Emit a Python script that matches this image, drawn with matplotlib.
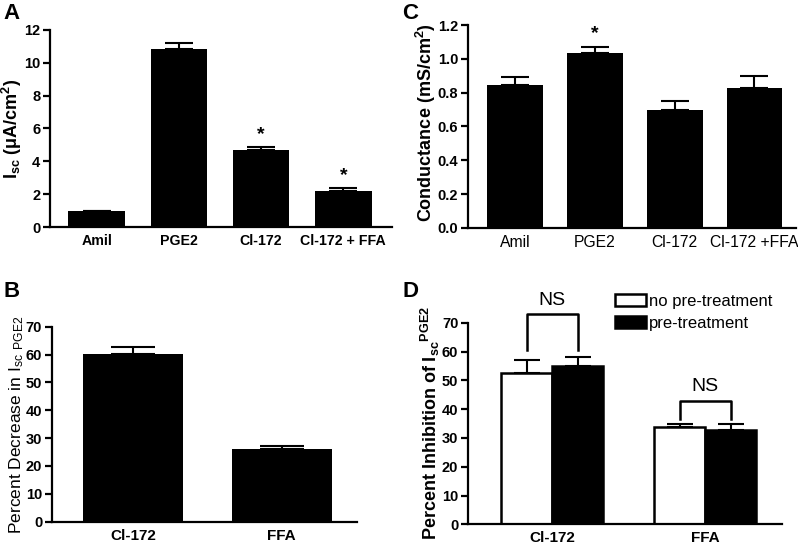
import matplotlib
matplotlib.use('Agg')
import matplotlib.pyplot as plt

plt.rcParams['font.family'] = ['Liberation Sans', 'DejaVu Sans']
plt.rcParams['mathtext.default'] = 'regular'
plt.rcParams['axes.linewidth'] = 1.6

# A: Isc
a_labels = ['Amil', 'PGE2', 'Cl-172', 'Cl-172 + FFA']
a_vals = [0.96, 10.85, 4.7, 2.2]
a_err = [0.03, 0.35, 0.18, 0.15]
a_star = [False, False, True, True]

# C: conductance
c_labels = ['Amil', 'PGE2', 'Cl-172', 'Cl-172 +FFA']
c_vals = [0.845, 1.037, 0.70, 0.826]
c_err = [0.048, 0.032, 0.053, 0.073]
c_star = [False, True, False, False]

# B: percent decrease
b_labels = ['Cl-172', 'FFA']
b_vals = [60.2, 26.0]
b_err = [2.6, 1.3]

# D: percent inhibition
d_labels = ['Cl-172', 'FFA']
d_nopre = [52.6, 33.9]
d_nopre_err = [4.4, 0.8]
d_pre = [54.9, 32.7]
d_pre_err = [3.3, 2.0]

fig = plt.figure(figsize=(7.98, 5.44), dpi=100)

def style(ax, xsize=10.5):
    ax.spines['top'].set_visible(False)
    ax.spines['right'].set_visible(False)
    ax.tick_params(direction='out', length=5, width=1.6, labelsize=10.5, pad=2)
    ax.tick_params(axis='x', length=0, pad=5, labelsize=xsize)
    for t in ax.get_xticklabels() + ax.get_yticklabels():
        t.set_fontweight('bold')

# panel A
ax = fig.add_axes([0.0627, 0.5827, 0.4283, 0.3622])
x = list(range(len(a_vals)))
ax.bar(x, a_vals, width=0.69, color='black')
ax.errorbar(x, a_vals, yerr=[[0] * 4, a_err], fmt='none', ecolor='black',
            capsize=10, elinewidth=1.5, capthick=1.5)
for i in x:
    if a_star[i]:
        ax.text(i, a_vals[i] + a_err[i] + 0.25, '*', ha='center', va='bottom',
                fontsize=14, fontweight='bold')
ax.set_xlim(-0.567, 3.59)
ax.set_ylim(0, 12)
ax.set_yticks(range(0, 13, 2))
ax.set_xticks(x)
ax.set_xticklabels(a_labels)
ax.set_ylabel('I$_{sc}$ (\u03bcA/cm$^{2}$)', fontsize=13, fontweight='bold')
ax.yaxis.set_label_coords(-0.076, 0.5)
style(ax, xsize=10.2)
fig.text(0.004, 0.975, 'A', fontsize=16, fontweight='bold', va='center')

# panel C
ax = fig.add_axes([0.5865, 0.581, 0.4115, 0.373])
x = list(range(len(c_vals)))
ax.bar(x, c_vals, width=0.7, color='black')
ax.errorbar(x, c_vals, yerr=[[0] * 4, c_err], fmt='none', ecolor='black',
            capsize=10, elinewidth=1.5, capthick=1.5)
for i in x:
    if c_star[i]:
        ax.text(i, c_vals[i] + c_err[i] + 0.03, '*', ha='center', va='bottom',
                fontsize=14, fontweight='bold')
ax.set_xlim(-0.5875, 3.525)
ax.set_ylim(0, 1.2)
ax.set_yticks([0, 0.2, 0.4, 0.6, 0.8, 1.0, 1.2])
ax.set_yticklabels(['0.0', '0.2', '0.4', '0.6', '0.8', '1.0', '1.2'])
ax.set_xticks(x)
ax.set_xticklabels(c_labels)
ax.set_ylabel('Conductance (mS/cm$^{2}$)', fontsize=13, fontweight='bold')
ax.yaxis.set_label_coords(-0.091, 0.52)
style(ax, xsize=11.3)
for t in ax.get_xticklabels():
    t.set_fontweight('normal')
fig.text(0.504, 0.975, 'C', fontsize=16, fontweight='bold', va='center')

# panel B
ax = fig.add_axes([0.065, 0.041, 0.382, 0.3585])
x = list(range(len(b_vals)))
ax.bar(x, b_vals, width=0.67, color='black')
ax.errorbar(x, b_vals, yerr=[[0] * 2, b_err], fmt='none', ecolor='black',
            capsize=16, elinewidth=1.5, capthick=1.5)
ax.set_xlim(-0.544, 1.503)
ax.set_ylim(0, 70)
ax.set_yticks(range(0, 71, 10))
ax.set_xticks(x)
ax.set_xticklabels(b_labels)
ax.set_ylabel('Percent Decrease in I$_{sc}$ $_{PGE2}$', fontsize=12.5)
ax.yaxis.set_label_coords(-0.085, 0.5)
style(ax, xsize=11)
fig.text(0.004, 0.465, 'B', fontsize=16, fontweight='bold', va='center')

# panel D
ax = fig.add_axes([0.5865, 0.0362, 0.3935, 0.3706])
w = 0.333
x = list(range(len(d_labels)))
xl = [i - w / 2 for i in x]
xr = [i + w / 2 for i in x]
ax.bar(xl, d_nopre, width=w, color='white', edgecolor='black', linewidth=1.8,
       label='no pre-treatment')
ax.bar(xr, d_pre, width=w, color='black', edgecolor='black', linewidth=1.8,
       label='pre-treatment')
ax.errorbar(xl, d_nopre, yerr=[[0] * 2, d_nopre_err], fmt='none', ecolor='black',
            capsize=9.5, elinewidth=1.5, capthick=1.5)
ax.errorbar(xr, d_pre, yerr=[[0] * 2, d_pre_err], fmt='none', ecolor='black',
            capsize=9.5, elinewidth=1.5, capthick=1.5)
# NS brackets
brackets = [(0, 72.9, 60.5), (1, 42.8, 36.7)]
for i, top, low in brackets:
    ax.plot([xl[i], xl[i], xr[i], xr[i]], [low, top, top, low], color='black',
            lw=1.8, clip_on=False)
    ax.text(i, top + 2, 'NS', ha='center', va='bottom', fontsize=14, clip_on=False)
ax.set_xlim(-0.549, 1.503)
ax.set_ylim(0, 70)
ax.set_yticks(range(0, 71, 10))
ax.set_xticks(x)
ax.set_xticklabels(d_labels)
ax.set_ylabel('Percent Inhibition of I$_{sc}$$^{PGE2}$', fontsize=13, fontweight='bold')
ax.yaxis.set_label_coords(-0.083, 0.5)
style(ax, xsize=11)
leg = ax.legend(loc='upper left', bbox_to_anchor=(0.762, 0.472), bbox_transform=fig.transFigure,
                frameon=False, fontsize=12, handlelength=1.85, handleheight=0.75,
                handletextpad=0.2, labelspacing=0.4, borderaxespad=0)
fig.text(0.504, 0.465, 'D', fontsize=16, fontweight='bold', va='center')

fig.savefig('out.png', dpi=100)
